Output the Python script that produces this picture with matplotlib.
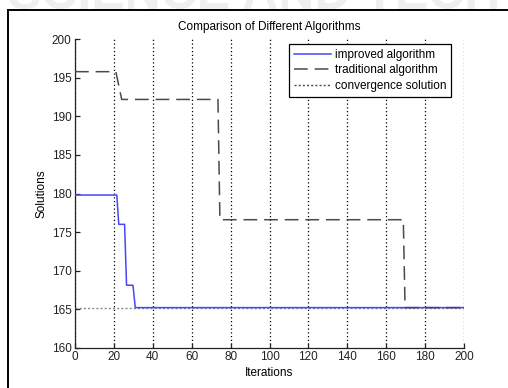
import matplotlib
matplotlib.use("Agg")
import matplotlib.pyplot as plt
from matplotlib.lines import Line2D

plt.rcParams['font.family'] = ['Liberation Sans', 'DejaVu Sans']

# ---- data ----
improved_x = [0, 21.5, 22.5, 25.5, 26.5, 29.8, 31, 200]
improved_y = [179.8, 179.8, 176.0, 176.0, 168.1, 168.1, 165.2, 165.2]

traditional_x = [0, 21, 24, 73.5, 74.5, 168.8, 169.7, 200]
traditional_y = [195.8, 195.8, 192.2, 192.2, 176.6, 176.6, 165.2, 165.2]

convergence_x = [0, 200]
convergence_y = [165.2, 165.2]

x_ticks = list(range(0, 201, 20))
y_ticks = list(range(160, 201, 5))

title = "Comparison of Different Algorithms"
labels = ["improved algorithm", "traditional algorithm", "convergence solution"]

# ---- figure ----
fig = plt.figure(figsize=(5.08, 3.88), dpi=100)
fig.patch.set_facecolor('white')

# faint watermark (cut off at the top edge, as in the reference)
fig.text(0.5, 1 - 19/388, "SCIENCE AND TECH", ha='center', va='bottom', fontsize=36,
         color='#efefef', fontweight='bold', zorder=0)

# frame lines (left and top)
fig.add_artist(Line2D([7.5/508, 7.5/508], [0, 1 - 9.5/388], color='black', lw=1.4,
                      transform=fig.transFigure))
fig.add_artist(Line2D([7.5/508, 1], [1 - 9.5/388, 1 - 9.5/388], color='black', lw=1.4,
                      transform=fig.transFigure))

ax = fig.add_axes([75/508, 1 - 347.7/388, (464 - 75)/508, (347.7 - 39.3)/388])
ax.set_facecolor('white')

ax.plot(convergence_x, convergence_y, color='#8a8a8a', lw=1.0, ls=(0, (1.5, 1.5)), zorder=3,
        label=labels[2])
ax.plot(improved_x, improved_y, color='#4646ff', lw=1.1, zorder=4, label=labels[0])
ax.plot(traditional_x, traditional_y, color='#4a4a4a', lw=1.1, ls=(0, (9, 4.5)), zorder=5,
        label=labels[1])

ax.set_xlim(0, 200)
ax.set_ylim(160, 200)
ax.set_xticks(x_ticks)
ax.set_yticks(y_ticks)
ax.xaxis.grid(True, color='black', ls=(0, (1, 2)), lw=0.9)
ax.yaxis.grid(False)
ax.set_axisbelow(True)

for s in ['top', 'right']:
    ax.spines[s].set_visible(False)
for s in ['left', 'bottom']:
    ax.spines[s].set_linewidth(0.9)
    ax.spines[s].set_color('#222222')

ax.tick_params(direction='in', length=3.5, width=0.9, labelsize=8.5, pad=2.5,
               colors='#222222')

ax.set_title(title, fontsize=8.5, pad=7)
ax.set_xlabel("Iterations", fontsize=8.5, labelpad=3)
ax.set_ylabel("Solutions", fontsize=8.5, labelpad=3)

handles = [Line2D([], [], color='#4646ff', lw=1.1),
           Line2D([], [], color='#4a4a4a', lw=1.1, ls=(0, (9, 4.5))),
           Line2D([], [], color='#4a4a4a', lw=1.0, ls=(0, (1.5, 1.5)))]
leg = ax.legend(handles, labels, loc='upper right',
                bbox_to_anchor=(451/508, 1 - 44/388), bbox_transform=fig.transFigure,
                fontsize=8.5, frameon=True, fancybox=False, framealpha=1,
                edgecolor='black', handlelength=3.1, handletextpad=0.35,
                borderpad=0.4, labelspacing=0.32, borderaxespad=0)
leg.get_frame().set_linewidth(0.9)
leg.set_zorder(10)

fig.savefig("out.png", dpi=100)
